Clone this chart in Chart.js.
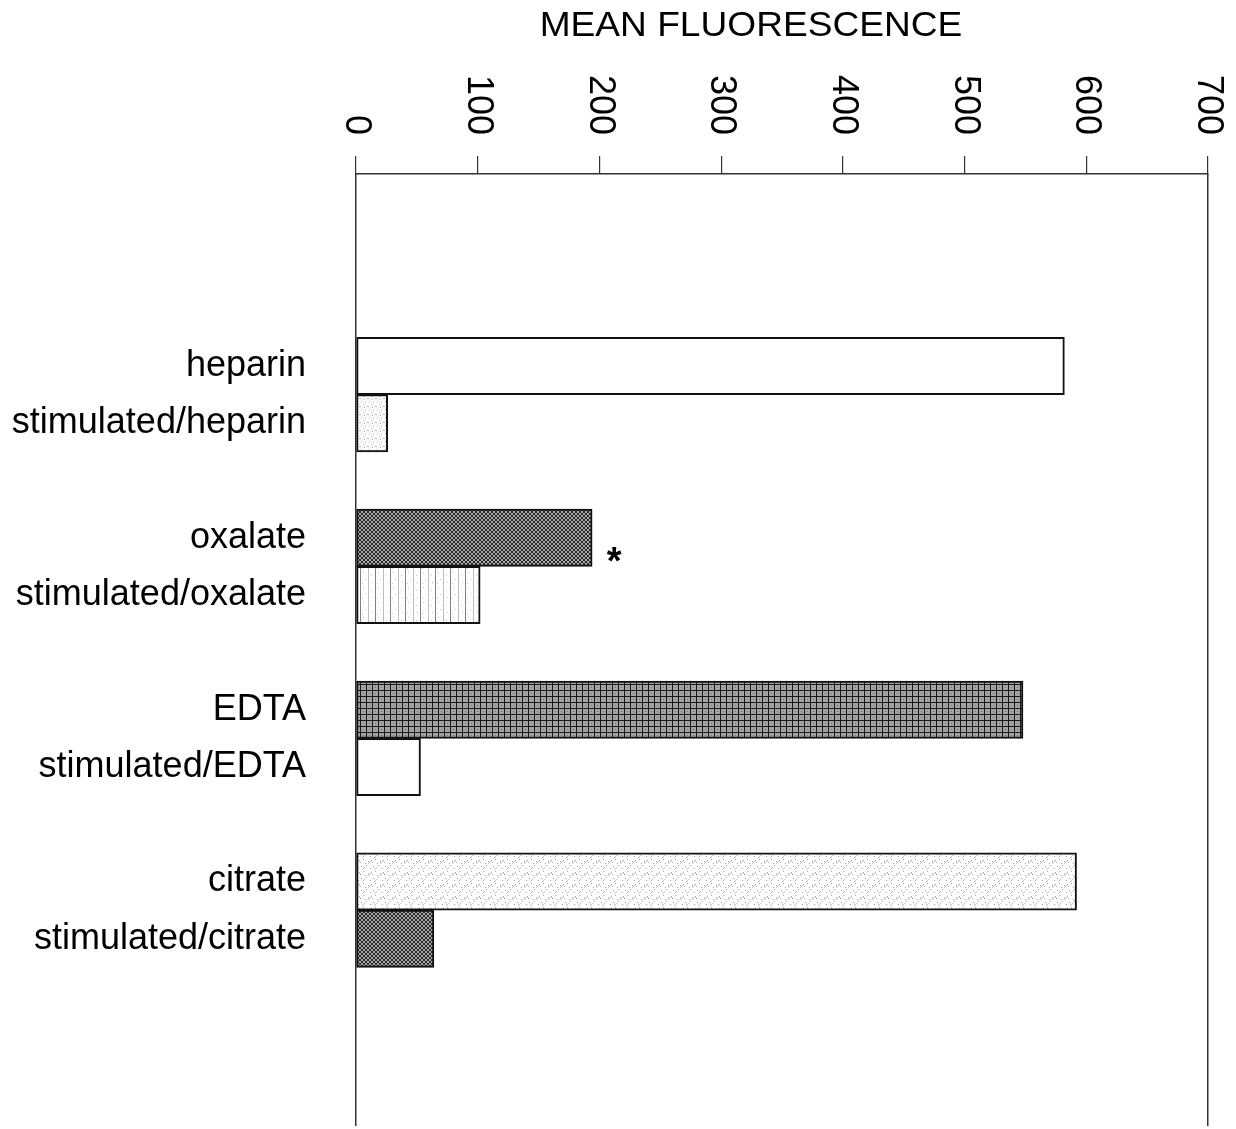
<!DOCTYPE html>
<html>
<head>
<meta charset="utf-8">
<script src="https://cdn.jsdelivr.net/npm/chart.js@4/dist/chart.umd.min.js"></script>
<style>
    html, body { margin: 0; padding: 0; background: #fff; overflow: hidden; }
    canvas { display: block; }
</style>
</head>
<body>
<canvas id="fluorChart" width="1236" height="1129"></canvas>
<script>
// values
const barLabels = ["heparin", "stimulated/heparin", "oxalate", "stimulated/oxalate", "EDTA", "stimulated/EDTA", "citrate", "stimulated/citrate"];
const fluorescence = [582, 26, 194, 102, 548, 53, 592, 64];
const xTicks = [0, 100, 200, 300, 400, 500, 600, 700];
const markedBars = ["oxalate"];
const axisTitle = "MEAN FLUORESCENCE";

const FONT = "'Liberation Sans', Arial, Helvetica, sans-serif";

function makePattern(size, draw) {
    const c = document.createElement("canvas");
    c.width = size;
    c.height = size;
    const g = c.getContext("2d");
    g.fillStyle = "#fff";
    g.fillRect(0, 0, size, size);
    draw(g, size);
    return g.createPattern(c, "repeat");
}

function dots(g, list, color) {
    g.fillStyle = color;
    list.forEach(([x, y]) => g.fillRect(x, y, 1, 1));
}

const patterns = {
    plain: "#ffffff",
    lightSpeckle: makePattern(8, g => {
        dots(g, [[1, 1], [5, 2], [3, 4], [7, 6], [0, 6], [4, 7]], "#b8b8b8");
    }),
    crossHatch: makePattern(4, g => {
        g.fillStyle = "#a8a8a8";
        g.fillRect(0, 0, 4, 4);
        g.strokeStyle = "#2a2a2a";
        g.lineWidth = 1;
        g.beginPath();
        g.moveTo(0, 0); g.lineTo(4, 4);
        g.moveTo(0, 4); g.lineTo(4, 0);
        g.stroke();
    }),
    vertLines: makePattern(15, g => {
        dots(g, [[3, 2], [11, 5], [5, 9], [12, 12], [2, 13]], "#c8c8c8");
        g.fillStyle = "#808080";
        g.fillRect(0, 0, 1, 15);
        g.fillStyle = "#bdbdbd";
        g.fillRect(8, 0, 1, 15);
    }),
    grid: makePattern(6, g => {
        g.fillStyle = "#a4a4a4";
        g.fillRect(0, 0, 6, 6);
        g.fillStyle = "#151515";
        g.fillRect(0, 0, 6, 1);
        g.fillRect(0, 0, 1, 6);
        g.fillStyle = "#707070";
        g.fillRect(3, 3, 1, 1);
    }),
    diagSpeckle: makePattern(12, g => {
        dots(g, [[1, 2], [6, 1], [10, 4], [3, 7], [8, 9], [0, 10], [5, 11], [11, 8]], "#a0a0a0");
        g.strokeStyle = "#bdbdbd";
        g.lineWidth = 1;
        g.beginPath();
        g.moveTo(2, 6); g.lineTo(5, 3);
        g.moveTo(8, 12); g.lineTo(11, 9);
        g.stroke();
    })
};

const barFills = [patterns.plain, patterns.lightSpeckle, patterns.crossHatch, patterns.vertLines,
                  patterns.grid, patterns.plain, patterns.diagSpeckle, patterns.crossHatch];

// category rows: blank rows above, between pairs and below the bars
const rowLabels = [];
const rowValues = [];
const rowFills = [];
function pushBlank(n) {
    for (let i = 0; i < n; i++) { rowLabels.push(""); rowValues.push(null); rowFills.push("#fff"); }
}
pushBlank(3);
barLabels.forEach((label, i) => {
    if (i > 0 && i % 2 === 0) pushBlank(1);
    rowLabels.push(label);
    rowValues.push(fluorescence[i]);
    rowFills.push(barFills[i]);
});
pushBlank(3);

// visible span of the category axis, in rows (the plot leaves a little less than 3 rows below)
const ROW_START = -0.35;
const ROW_END = rowLabels.length - 0.75;

const overlayPlugin = {
    id: "overlay",
    afterDraw(chart) {
        const ctx = chart.ctx;
        const xs = chart.scales.x;
        ctx.save();
        ctx.fillStyle = "#000";
        // rotated tick labels, reading top to bottom
        ctx.font = "36px " + FONT;
        xs.ticks.forEach(t => {
            const px = xs.getPixelForValue(t.value);
            ctx.save();
            ctx.translate(px, xs.bottom - 39);
            ctx.rotate(Math.PI / 2);
            ctx.textAlign = "right";
            ctx.textBaseline = "middle";
            ctx.fillText(String(t.value), 0, 0);
            ctx.restore();
        });
        // axis title
        ctx.save();
        ctx.font = "35px " + FONT;
        ctx.textAlign = "center";
        ctx.textBaseline = "middle";
        ctx.translate((xs.left + xs.right) / 2 - 31, 26);
        ctx.scale(1.06, 1);
        ctx.fillText(axisTitle, 0, 0);
        ctx.restore();
        // significance marks
        const meta = chart.getDatasetMeta(0);
        ctx.font = "bold 38px " + FONT;
        ctx.textAlign = "center";
        ctx.textBaseline = "alphabetic";
        markedBars.forEach(label => {
            const bar = meta.data[rowLabels.indexOf(label)];
            if (bar) ctx.fillText("*", bar.x + 22, bar.y + 36);
        });
        ctx.restore();
    }
};

new Chart(document.getElementById("fluorChart").getContext("2d"), {
    type: "bar",
    data: {
        labels: rowLabels,
        datasets: [{
            data: rowValues,
            backgroundColor: rowFills,
            borderColor: "#111",
            borderWidth: 2,
            borderSkipped: false,
            barPercentage: 1,
            categoryPercentage: 1
        }]
    },
    options: {
        indexAxis: "y",
        responsive: false,
        animation: false,
        devicePixelRatio: 1,
        layout: { padding: { top: 0, right: 28, bottom: 4, left: 0 } },
        plugins: { legend: { display: false }, tooltip: { enabled: false }, title: { display: false } },
        scales: {
            x: {
                type: "linear",
                position: "top",
                min: xTicks[0],
                max: xTicks[xTicks.length - 1],
                ticks: { display: false, stepSize: xTicks[1] - xTicks[0] },
                grid: { drawOnChartArea: false, drawTicks: true, tickLength: 18, color: "#333", lineWidth: 1.2 },
                border: { display: true, color: "#333", width: 1.5 },
                afterFit: s => { s.height = 174; }
            },
            y: {
                type: "category",
                position: "left",
                offset: false,
                ticks: { color: "#000", padding: 50, font: { family: FONT, size: 36 } },
                grid: { drawOnChartArea: false, drawTicks: false },
                border: { display: true, color: "#333", width: 1.5 },
                afterBuildTicks: s => { s._startValue = ROW_START; s._valueRange = ROW_END - ROW_START; },
                afterFit: s => { s.width = 356; s.paddingTop = 0; s.paddingBottom = 0; }
            },
            yRight: {
                type: "category",
                position: "right",
                ticks: { display: false },
                grid: { drawOnChartArea: false, drawTicks: false },
                border: { display: true, color: "#333", width: 1.5 },
                afterFit: s => { s.width = 0; s.paddingTop = 0; s.paddingBottom = 0; }
            }
        }
    },
    plugins: [overlayPlugin]
});
</script>
</body>
</html>
